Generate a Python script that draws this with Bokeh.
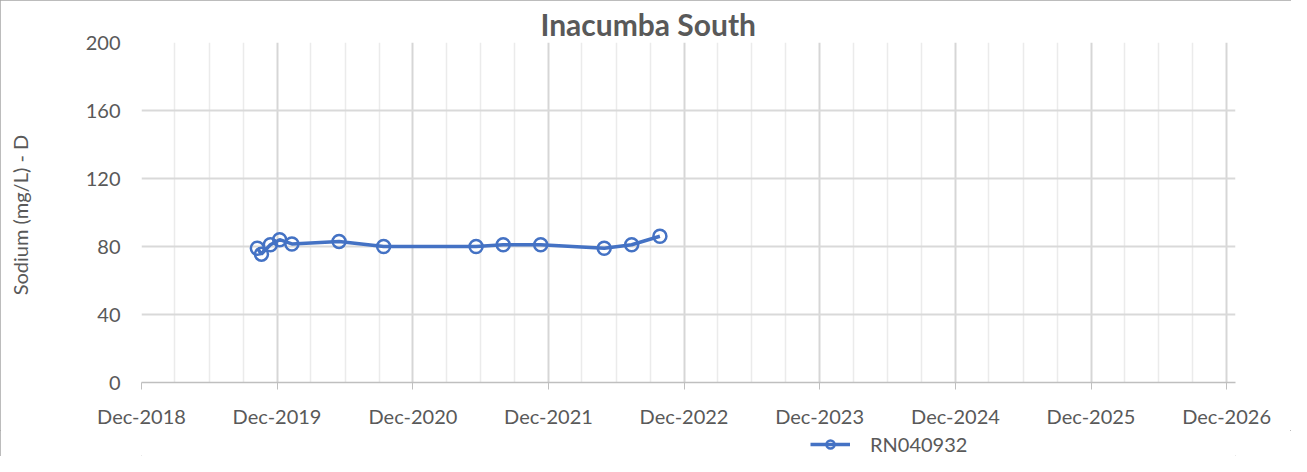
import calendar
import datetime as dt
from bokeh.plotting import figure
from bokeh.layouts import column
from bokeh.models import (FixedTicker, DatetimeTickFormatter, Legend, LegendItem,
                          Range1d, ColumnDataSource)
from bokeh.embed import file_html
from bokeh.resources import INLINE

# ---- data ----
sample_dates = ["2019-10-09", "2019-10-20", "2019-11-13", "2019-12-08", "2020-01-10",
                "2020-05-16", "2020-09-13", "2021-05-20", "2021-08-01", "2021-11-10",
                "2022-04-30", "2022-07-13", "2022-09-27"]
sodium = [79, 75.5, 81, 84, 81.5, 83, 80, 80, 81, 81, 79, 81, 86]
series_name = "RN040932"
title_text = "Inacumba South"
y_label = "Sodium  (mg/L) - D"
y_ticks = [0, 40, 80, 120, 160, 200]
tick_years = [2018, 2019, 2020, 2021, 2022, 2023, 2024, 2025, 2026]

def ms(d):
    return calendar.timegm(d.timetuple()) * 1000.0

x_vals = [ms(dt.datetime.strptime(s, "%Y-%m-%d")) for s in sample_dates]
major = [ms(dt.datetime(y, 12, 1)) for y in tick_years]
minor = []
for y in tick_years[1:]:
    for m in (3, 6, 9):
        minor.append(ms(dt.datetime(y, m, 1)))

FONT = "Lato"
GREY = "#595959"
BLUE = "#4472C4"

x_start = major[0]
x_end = major[-1] + 24 * 86400000.0

W = 1291
p = figure(width=W, height=430, x_axis_type="datetime",
           x_range=Range1d(x_start, x_end), y_range=Range1d(0, 200),
           output_backend="svg", toolbar_location=None,
           min_border_left=141, min_border_right=56,
           min_border_top=42, min_border_bottom=48)
p.outline_line_color = None
p.background_fill_color = "white"
p.border_fill_color = "white"

# title
p.title.text = title_text
p.title.align = "left"
p.title.offset = 399
p.title.text_font = FONT
p.title.text_font_size = "30px"
p.title.text_font_style = "bold"
p.title.text_color = GREY
p.title.standoff = 2

# x axis
p.xaxis.ticker = FixedTicker(ticks=major, minor_ticks=minor)
fmt = "%b-%Y"
p.xaxis.formatter = DatetimeTickFormatter(years=fmt, months=fmt, days=fmt, hours=fmt,
                                          hourmin=fmt, minutes=fmt, minsec=fmt,
                                          seconds=fmt, milliseconds=fmt,
                                          microseconds=fmt)
p.xaxis.major_label_text_font = FONT
p.xaxis.major_label_text_font_size = "20px"
p.xaxis.major_label_text_color = GREY
p.xaxis.axis_line_color = "#bfbfbf"
p.xaxis.axis_line_width = 1.5
p.xaxis.major_tick_line_color = "#bfbfbf"
p.xaxis.major_tick_out = 7
p.xaxis.major_tick_in = 0
p.xaxis.minor_tick_line_color = None
p.xaxis.major_label_standoff = 14

# y axis
p.yaxis.ticker = FixedTicker(ticks=y_ticks)
p.yaxis.axis_label = y_label
p.yaxis.axis_label_text_font = FONT
p.yaxis.axis_label_text_font_size = "20px"
p.yaxis.axis_label_text_font_style = "normal"
p.yaxis.axis_label_text_color = GREY
p.yaxis.axis_label_standoff = 51
p.yaxis.major_label_text_font = FONT
p.yaxis.major_label_text_font_size = "20px"
p.yaxis.major_label_text_color = GREY
p.yaxis.axis_line_color = None
p.yaxis.major_tick_line_color = None
p.yaxis.minor_tick_line_color = None
p.yaxis.major_label_standoff = 15

# grids
p.xgrid.grid_line_color = "#d6d6d6"
p.xgrid.grid_line_width = 2
p.xgrid.minor_grid_line_color = "#ebebeb"
p.xgrid.minor_grid_line_width = 1.5
p.ygrid.grid_line_color = "#d9d9d9"
p.ygrid.grid_line_width = 2

src = ColumnDataSource(dict(x=x_vals, y=sodium))
p.line("x", "y", source=src, line_color=BLUE, line_width=3.5)
p.scatter("x", "y", source=src, marker="circle", size=13, line_color=BLUE,
          line_width=2.5, fill_color=None)

# ---- legend strip below the chart (its proxy glyphs fall outside its view) ----
lf = figure(width=W, height=26, x_range=Range1d(0, 1), y_range=Range1d(0, 1),
            output_backend="svg", toolbar_location=None,
            min_border_left=0, min_border_right=0, min_border_top=0,
            min_border_bottom=0)
lf.axis.visible = False
lf.grid.visible = False
lf.outline_line_color = None
lf.background_fill_color = "white"
lf.border_fill_color = "white"
llr = lf.line("x", "y", source=src, line_color=BLUE, line_width=3.5)
lsr = lf.scatter("x", "y", source=src, marker="circle", size=13, line_color=BLUE,
                 line_width=2.5, fill_color=None)
legend = Legend(items=[LegendItem(label=series_name, renderers=[llr, lsr])],
                location=(669, 0), orientation="horizontal",
                glyph_width=40, glyph_height=20, label_standoff=20,
                label_height=20,
                label_text_font=FONT, label_text_font_size="20px",
                label_text_color=GREY, padding=0, margin=0, spacing=0,
                border_line_color=None, background_fill_alpha=0)
lf.add_layout(legend, "center")

layout = column(p, lf, spacing=0,
                styles={"outline": "1px solid #a6a6a6", "outline-offset": "-1px"})

open("out.html", "w").write(file_html(layout, INLINE))
